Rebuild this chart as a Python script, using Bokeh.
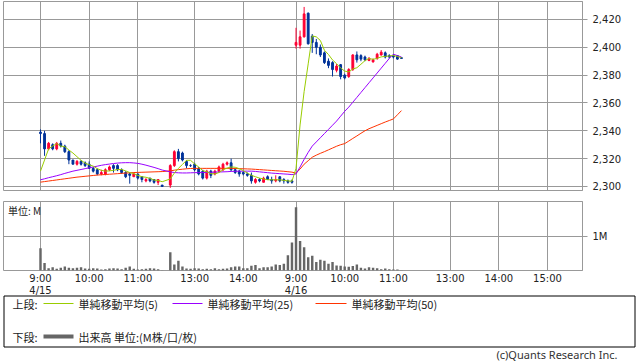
from bokeh.plotting import figure
from bokeh.models import Range1d, LinearAxis, FixedTicker, NumeralTickFormatter, ColumnDataSource, Grid
from bokeh.layouts import column
from bokeh.embed import file_html
from bokeh.resources import INLINE
from bokeh.core.properties import value

# ---- data -------------------------------------------------------------
# 5-minute bar index: 4/15 morning (9:00-11:30), 4/15 afternoon (12:30-15:00), 4/16 morning
bar_slots = list(range(0, 31)) + list(range(32, 63)) + list(range(63, 90))

tick_slots = [0, 12, 24, 38, 50, 63, 75, 87, 101, 113, 125]
tick_times = ["9:00", "10:00", "11:00", "13:00", "14:00", "9:00", "10:00", "11:00", "13:00", "14:00", "15:00"]
date_slots = [0, 63]
date_texts = ["4/15", "4/16"]
price_ticks = [2300, 2320, 2340, 2360, 2380, 2400, 2420]
volume_ticks = [1]

opens = [
    2339, 2338, 2327, 2330, 2327, 2331, 2329, 2325, 2319, 2316,
    2318, 2317, 2316, 2313, 2312, 2309, 2309, 2312, 2315, 2315,
    2312, 2310, 2309, 2307, 2309, 2307, 2304, 2306, 2305, 2303,
    2301,
    2301, 2315, 2325, 2324, 2318, 2315, 2316, 2313, 2311, 2306,
    2311, 2309, 2311, 2312, 2316, 2317, 2312, 2311, 2310, 2309,
    2308, 2303, 2305, 2303, 2307, 2305, 2304, 2307, 2305, 2304,
    2304,
    2401.5, 2401.5, 2407.5, 2424.5, 2408, 2403.5, 2400, 2396, 2390, 2389,
    2383.5, 2387.5, 2380, 2379, 2384, 2394.5, 2394, 2393, 2390.5, 2389.5,
    2392, 2394.5, 2396, 2394, 2394, 2394, 2392.5]
highs = [
    2341, 2340, 2332, 2331, 2332, 2333, 2330, 2326, 2319, 2319,
    2319, 2318, 2318, 2314, 2313, 2312, 2313, 2315, 2316, 2316,
    2313, 2311, 2310, 2310, 2309, 2307, 2306, 2306, 2305, 2305,
    2301,
    2316, 2326, 2327, 2325, 2319, 2316, 2317, 2314, 2312, 2312,
    2312, 2312, 2315, 2317, 2318, 2320, 2313, 2312, 2311, 2310,
    2310, 2306, 2306, 2307, 2308, 2307, 2308, 2307, 2306, 2305,
    2305,
    2414, 2412, 2429, 2425, 2409.5, 2406, 2402, 2397, 2392, 2390,
    2388, 2388, 2381, 2385, 2395, 2397, 2395, 2394, 2393, 2392,
    2396, 2398, 2397, 2395, 2395, 2394, 2393]
lows = [
    2331, 2322, 2326, 2326, 2326, 2328, 2324, 2316, 2316, 2315,
    2315, 2314, 2313, 2310, 2308, 2308, 2308, 2311, 2310, 2311,
    2309, 2306, 2302, 2307, 2305, 2303, 2303, 2303, 2302, 2301,
    2300,
    2299, 2314, 2318, 2318, 2313, 2314, 2311, 2308, 2305, 2305,
    2306, 2308, 2310, 2311, 2315, 2311, 2309, 2307, 2308, 2307,
    2302, 2302, 2303, 2303, 2305, 2302, 2303, 2303, 2302, 2302,
    2302,
    2399, 2399, 2407, 2402, 2396, 2395, 2393, 2388, 2385, 2379,
    2382, 2377, 2377, 2378, 2383, 2389, 2390, 2390, 2390, 2389,
    2391, 2394, 2392, 2392, 2392, 2391, 2392]
closes = [
    2338, 2327, 2331, 2327, 2331, 2329, 2325, 2319, 2316, 2318,
    2316, 2315, 2313, 2311, 2309, 2310, 2312, 2314, 2313, 2312,
    2310, 2307, 2308, 2309, 2306, 2305, 2305, 2304, 2303, 2305,
    2300,
    2315, 2325, 2320, 2319, 2315, 2315, 2312, 2309, 2306, 2311,
    2308, 2311, 2314, 2316, 2317, 2312, 2310, 2309, 2309, 2308,
    2304, 2305, 2304, 2306, 2305, 2304, 2305, 2304, 2304, 2303,
    2303,
    2403.5, 2407.5, 2424, 2402.5, 2403.5, 2400, 2394.5, 2389, 2387, 2384,
    2386.5, 2379, 2378, 2384, 2394.5, 2391, 2391.5, 2391, 2392, 2391,
    2395, 2396.5, 2393, 2393, 2393, 2391.5, 2392]

ma5 = [
    2311, 2319, 2327, 2329, 2330.8, 2329, 2328.6, 2326.2, 2324, 2321.4,
    2318.8, 2316.8, 2315.6, 2314.6, 2312.8, 2311.6, 2311, 2311.2, 2311.6, 2312.2,
    2312.2, 2311.2, 2310, 2309.2, 2308, 2307, 2306.6, 2305.8, 2304.6, 2304.4,
    2303.4,
    2305.4, 2309.6, 2313, 2315.8, 2318.8, 2318.8, 2316.2, 2314, 2311.4, 2310.6,
    2309.2, 2309, 2310, 2312, 2313.2, 2314, 2313.8, 2312.8, 2311.4, 2309.6,
    2308, 2307, 2306, 2305.4, 2304.8, 2304.8, 2304.8, 2304.8, 2304.4, 2304,
    2303.8,
    2313, 2344.2, 2368.2, 2388.1, 2408.2, 2407.5, 2404.9, 2397.9, 2394.8, 2390.9,
    2388.2, 2385.1, 2382.9, 2382.3, 2384.4, 2385.3, 2387.8, 2390.4, 2392, 2391.3,
    2392.1, 2393.1, 2393.5, 2393.7, 2394.1, 2393.4, 2392.5]
ma25 = [
    2304.8, 2305.5, 2306.3, 2307, 2307.7, 2308.5, 2309.4, 2310.2, 2311, 2311.6,
    2312.2, 2312.8, 2313.4, 2314, 2314.6, 2315.2, 2315.7, 2316.1, 2316.5, 2316.8,
    2317, 2317.1, 2317.1, 2316.9, 2316.6, 2316, 2315.3, 2314.5, 2313.7, 2312.8,
    2311.8,
    2310.5, 2310, 2309.8, 2309.7, 2309.7, 2309.8, 2309.9, 2310, 2310, 2310.1,
    2310.2, 2310.3, 2310.4, 2310.5, 2310.6, 2310.8, 2310.9, 2311, 2311, 2311,
    2311, 2310.8, 2310.5, 2310.2, 2309.9, 2309.6, 2309.4, 2309.2, 2309, 2308.8,
    2308.5,
    2309, 2314, 2319.5, 2324.5, 2329, 2332, 2335, 2338, 2341, 2344,
    2347, 2350.5, 2354, 2357, 2360.5, 2364, 2367.5, 2371, 2374.5, 2378,
    2381.5, 2385, 2388.5, 2392, 2395, 2394, 2393]
ma50 = [
    2303.1, 2303.5, 2303.9, 2304.3, 2304.7, 2305.1, 2305.5, 2305.9, 2306.3, 2306.7,
    2307, 2307.3, 2307.6, 2307.9, 2308.2, 2308.4, 2308.6, 2308.8, 2309, 2309.2,
    2309.4, 2309.6, 2309.8, 2310, 2310.1, 2310.2, 2310.3, 2310.4, 2310.5, 2310.6,
    2310.7,
    2311.2, 2311.7, 2312.1, 2312.4, 2312.7, 2312.9, 2313, 2313, 2313, 2313,
    2313, 2313, 2313, 2313, 2313, 2313, 2312.9, 2312.8, 2312.7, 2312.6,
    2312.5, 2312.3, 2312.1, 2311.9, 2311.7, 2311.5, 2311.3, 2311.1, 2310.9, 2310.6,
    2310.3,
    2309.6, 2312.5, 2316, 2318.5, 2321, 2322.5, 2323.8, 2325, 2326.3, 2327.6,
    2328.9, 2330, 2330.8, 2332.6, 2334.5, 2336.3, 2338.2, 2340, 2341.5, 2342.7,
    2343.9, 2345.1, 2346.3, 2347.4, 2348.5, 2351.5, 2354.5]

volumes_m = [
    0.66, 0.22, 0.07, 0.10, 0.05, 0.08, 0.12, 0.08, 0.07, 0.08,
    0.10, 0.06, 0.05, 0.07, 0.06, 0.03, 0.04, 0.06, 0.07, 0.06,
    0.04, 0.08, 0.12, 0.05, 0.03, 0.04, 0.05, 0.07, 0.06, 0.04,
    0.01,
    0.54, 0.18, 0.29, 0.12, 0.06, 0.05, 0.07, 0.06, 0.04, 0.05,
    0.04, 0.07, 0.04, 0.05, 0.06, 0.10, 0.12, 0.12, 0.07, 0.07,
    0.14, 0.16, 0.07, 0.10, 0.10, 0.12, 0.18, 0.16, 0.20, 0.45,
    0.83,
    1.88, 0.88, 0.69, 0.39, 0.44, 0.25, 0.32, 0.29, 0.20, 0.25,
    0.15, 0.14, 0.12, 0.11, 0.13, 0.18, 0.08, 0.06, 0.10, 0.08,
    0.07, 0.04, 0.06, 0.04, 0.03, 0.03, 0.01]

ma_labels = ["単純移動平均(5)", "単純移動平均(25)", "単純移動平均(50)"]
upper_label = "上段:"
lower_label = "下段:"
volume_legend = "出来高 単位:(M株/口/枚)"
unit_label = "単位: M"
copyright_text = "(c)Quants Research Inc."

# ---- styles / geometry ------------------------------------------------
UP = "#ff0033"
DOWN = "#003399"
MA_COLORS = ["#99cc00", "#9900ff", "#ff3300"]
GRID = "#999999"
TXT = "#222222"
NUM_FONT = "DejaVu Sans"
JP_FONT = "Noto Sans CJK JP"
W = 638
LEFT, RIGHT = 3, 56
X0, X1 = -9.12, 133.63
PX_PER_SLOT = (W - LEFT - RIGHT) / (X1 - X0)

x_range = Range1d(X0, X1)

# ---- price panel ------------------------------------------------------
p1 = figure(width=W, height=200, x_range=x_range, y_range=Range1d(2297.1, 2432.9),
            output_backend="svg", toolbar_location=None,
            x_axis_location=None, y_axis_location=None,
            min_border_left=LEFT, min_border_right=RIGHT, min_border_top=1, min_border_bottom=10)
p1.grid.visible = False
p1.outline_line_color = GRID
p1.add_layout(Grid(dimension=0, ticker=FixedTicker(ticks=tick_slots), grid_line_color=GRID))
p1.add_layout(Grid(dimension=1, ticker=FixedTicker(ticks=price_ticks), grid_line_color=GRID))
ax = LinearAxis(ticker=FixedTicker(ticks=price_ticks), formatter=NumeralTickFormatter(format="0,0"),
                major_tick_in=0, major_tick_out=5, minor_tick_line_color=None,
                axis_line_color=GRID, major_tick_line_color=GRID,
                major_label_text_font=NUM_FONT, major_label_text_font_size="10px",
                major_label_text_color=TXT, major_label_standoff=5)
p1.add_layout(ax, "right")

src = ColumnDataSource(dict(
    x=bar_slots, o=opens, h=highs, l=lows, c=closes,
    top=[max(a, b) for a, b in zip(opens, closes)],
    bot=[min(a, b) for a, b in zip(opens, closes)],
    col=[UP if c > o else DOWN for o, c in zip(opens, closes)],
))
p1.segment(x0="x", y0="l", x1="x", y1="h", line_color="col", line_width=1, source=src)
p1.vbar(x="x", top="top", bottom="bot", width=0.45, fill_color="col", line_color="col",
        line_width=1, source=src)
for series, colr in zip([ma50, ma25, ma5], MA_COLORS[::-1]):
    p1.line(bar_slots, series, line_color=colr, line_width=1)

# ---- volume panel -----------------------------------------------------
p2 = figure(width=W, height=71, x_range=x_range, y_range=Range1d(0, 2.05),
            output_backend="svg", toolbar_location=None,
            x_axis_location=None, y_axis_location=None,
            min_border_left=LEFT, min_border_right=RIGHT, min_border_top=1, min_border_bottom=1)
p2.grid.visible = False
p2.outline_line_color = GRID
p2.add_layout(Grid(dimension=0, ticker=FixedTicker(ticks=tick_slots), grid_line_color=GRID))
p2.add_layout(Grid(dimension=1, ticker=FixedTicker(ticks=volume_ticks), grid_line_color=GRID))
vax = LinearAxis(ticker=FixedTicker(ticks=volume_ticks), major_label_overrides={1: "1M"},
                 major_tick_in=0, major_tick_out=5, minor_tick_line_color=None,
                 axis_line_color=GRID, major_tick_line_color=GRID,
                 major_label_text_font=NUM_FONT, major_label_text_font_size="10px",
                 major_label_text_color=TXT, major_label_standoff=5)
p2.add_layout(vax, "right")
p2.vbar(x=bar_slots, top=volumes_m, width=0.6, fill_color="#666666", line_color=None)
p2.text(x=[-8.0], y=[1.79], text=[unit_label], text_font=value(JP_FONT), text_font_size="10px",
        text_color=TXT, text_baseline="middle", text_align="left")

# ---- time labels, legend, footer -------------------------------------
H3 = 91
p3 = figure(width=W, height=H3, x_range=Range1d(0, W), y_range=Range1d(H3, 0),
            output_backend="svg", toolbar_location=None,
            x_axis_location=None, y_axis_location=None,
            min_border_left=0, min_border_right=0, min_border_top=0, min_border_bottom=0)
p3.frame_align = False
p3.extra_x_ranges = {"slots": Range1d(X0 - LEFT / PX_PER_SLOT, X0 + (W - LEFT) / PX_PER_SLOT)}
p3.grid.visible = False
p3.outline_line_color = None
p3.text(x=tick_slots, y=[7] * len(tick_slots), text=tick_times, x_range_name="slots",
        text_font=value(NUM_FONT), text_font_size="10px", text_color=TXT,
        text_baseline="middle", text_align="center")
p3.text(x=date_slots, y=[19] * len(date_slots), text=date_texts, x_range_name="slots",
        text_font=value(NUM_FONT), text_font_size="10px", text_color=TXT,
        text_baseline="middle", text_align="center")
p3.quad(left=[3.5], right=[634.5], top=[24.5], bottom=[75.5], fill_color=None, line_color="black", line_width=1)
p3.text(x=[12, 12], y=[32, 65], text=[upper_label, lower_label], text_font=value(JP_FONT),
        text_font_size="11px", text_color=TXT, text_baseline="middle")
p3.segment(x0=[43, 172, 315], y0=[32, 32, 32], x1=[73, 202, 346], y1=[32, 32, 32],
           line_color=MA_COLORS, line_width=1)
p3.text(x=[78, 207, 351], y=[32, 32, 32], text=ma_labels, text_font=value(JP_FONT),
        text_font_size="11px", text_color=TXT, text_baseline="middle")
p3.segment(x0=[43], y0=[65], x1=[73], y1=[65], line_color="#666666", line_width=4)
p3.text(x=[78], y=[65], text=[volume_legend], text_font=value(JP_FONT),
        text_font_size="11px", text_color=TXT, text_baseline="middle")
p3.text(x=[617], y=[83], text=[copyright_text], text_font=value("Noto Sans"),
        text_font_size="11px", text_color="#333333", text_baseline="middle", text_align="right")

layout = column(p1, p2, p3, spacing=0)
open("out.html", "w").write(file_html(layout, INLINE))
